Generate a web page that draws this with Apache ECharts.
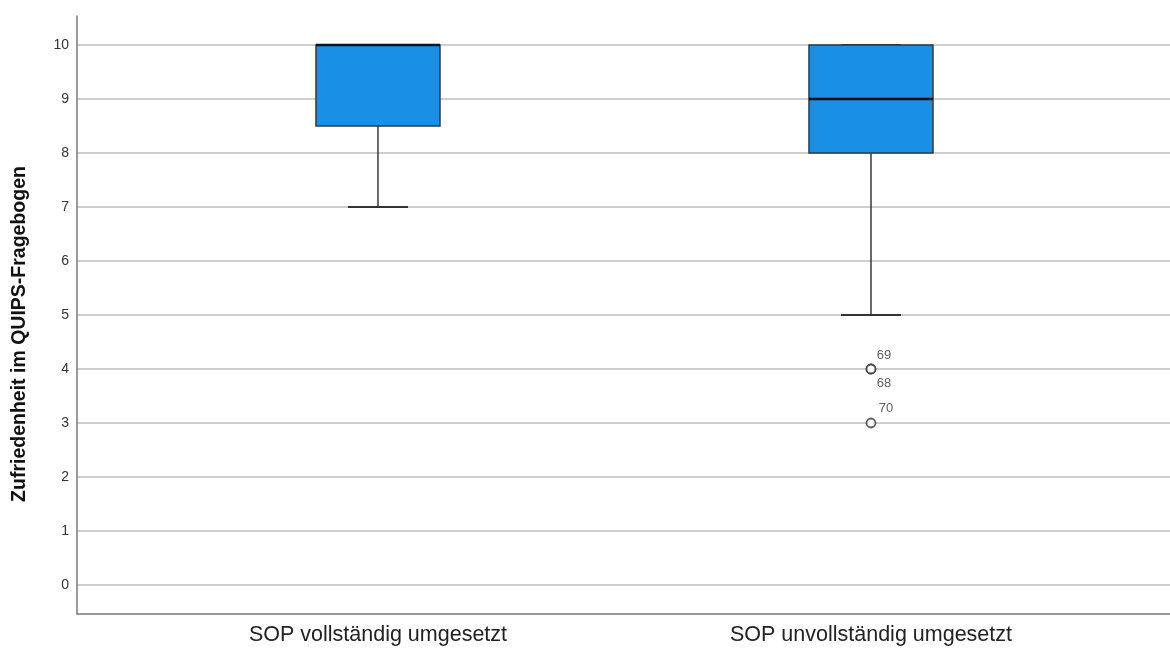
<!DOCTYPE html>
<html lang="de">
<head>
    <meta charset="UTF-8">
    <title>Boxplot</title>
    <script type="text/javascript" src="https://fastly.jsdelivr.net/npm/echarts@6.0.0/dist/echarts.min.js"></script>
    <style>
        html, body { margin: 0; padding: 0; background: #fff; }
        #main { width: 1170px; height: 651px; }
    </style>
</head>
<body>
<div id="main"></div>
<script type="text/javascript">
    // groups on the x axis (0, 1)
    var categories = ['SOP vollständig umgesetzt', 'SOP unvollständig umgesetzt'];
    // [position, low whisker, Q1, median, Q3, high whisker]
    var boxdata = [
        [0, 7, 8.5, 10, 10, 10],
        [1, 5, 8, 9, 10, 10]
    ];
    // outliers: [position, value, case number]
    var outliers = [
        [1, 4, '69'],
        [1, 4, '68'],
        [1, 3, '70']
    ];
    var yTicks = [0, 1, 2, 3, 4, 5, 6, 7, 8, 9, 10];

    var myChart = echarts.init(document.getElementById('main'));

    function boxRenderItem(params, api) {
        var x = api.value(0);
        var low = api.coord([x, api.value(1)]);
        var q1 = api.coord([x, api.value(2)]);
        var med = api.coord([x, api.value(3)]);
        var q3 = api.coord([x, api.value(4)]);
        var high = api.coord([x, api.value(5)]);
        var halfBox = 62;
        var halfCap = 30;
        var cx = low[0];
        var line = { stroke: '#3a3a3a', lineWidth: 1.5 };
        return {
            type: 'group',
            children: [
                { type: 'line', shape: { x1: cx, y1: low[1], x2: cx, y2: q1[1] }, style: line },
                { type: 'line', shape: { x1: cx, y1: high[1], x2: cx, y2: q3[1] }, style: line },
                { type: 'line', shape: { x1: cx - halfCap, y1: low[1], x2: cx + halfCap, y2: low[1] }, style: { stroke: '#333', lineWidth: 2 } },
                { type: 'line', shape: { x1: cx - halfCap, y1: high[1], x2: cx + halfCap, y2: high[1] }, style: { stroke: '#333', lineWidth: 2 } },
                {
                    type: 'rect',
                    shape: { x: cx - halfBox, y: q3[1], width: halfBox * 2, height: q1[1] - q3[1] },
                    style: { fill: '#1a8fe6', stroke: '#2b3a48', lineWidth: 1.5 }
                },
                { type: 'line', shape: { x1: cx - halfBox, y1: med[1], x2: cx + halfBox, y2: med[1] }, style: { stroke: '#111', lineWidth: 2.5 } }
            ]
        };
    }

    var labelOffsets = { '69': [13, -14], '68': [13, 14], '70': [15, -15] };

    var option = {
        animation: false,
        grid: { left: 77, right: 0, top: 16, bottom: 37 },
        xAxis: {
            type: 'value',
            min: -0.6105,
            max: 1.6065,
            splitLine: { show: false },
            axisTick: { show: false },
            axisLine: { show: true, onZero: false, lineStyle: { color: '#7a7a7a', width: 1.5 } },
            axisLabel: {
                customValues: [0, 1],
                formatter: function (v) { return categories[Math.round(v)]; },
                color: '#222',
                fontSize: 21.5,
                fontFamily: 'Liberation Sans, Arial, sans-serif',
                margin: 10
            }
        },
        yAxis: {
            type: 'value',
            min: -0.537,
            max: 10.537,
            name: 'Zufriedenheit im QUIPS-Fragebogen',
            nameLocation: 'middle',
            nameGap: 47,
            nameTextStyle: {
                fontSize: 19.5,
                fontWeight: 'bold',
                color: '#111',
                fontFamily: 'Liberation Sans, Arial, sans-serif',
                padding: [0, 38, 0, 0]
            },
            axisLine: { show: true, onZero: false, lineStyle: { color: '#7a7a7a', width: 1.5 } },
            axisTick: { show: false, customValues: yTicks },
            axisLabel: {
                customValues: yTicks,
                color: '#333',
                fontSize: 14,
                fontFamily: 'Liberation Sans, Arial, sans-serif',
                margin: 8
            },
            splitLine: { show: true, lineStyle: { color: '#cfcfcf', width: 2 } }
        },
        series: [
            {
                type: 'custom',
                renderItem: boxRenderItem,
                encode: { x: 0, y: [1, 2, 3, 4, 5] },
                data: boxdata,
                z: 3
            },
            {
                type: 'scatter',
                symbol: 'circle',
                symbolSize: 9,
                itemStyle: { color: '#fff', borderColor: '#333', borderWidth: 1.8 },
                data: outliers.map(function (o) {
                    var off = labelOffsets[o[2]];
                    return {
                        value: [o[0], o[1]],
                        label: {
                            show: true,
                            formatter: o[2],
                            position: 'inside',
                            offset: off,
                            color: '#333',
                            fontSize: 13,
                            fontFamily: 'Liberation Sans, Arial, sans-serif'
                        }
                    };
                }),
                z: 4
            }
        ]
    };
    myChart.setOption(option);
</script>
</body>
</html>
